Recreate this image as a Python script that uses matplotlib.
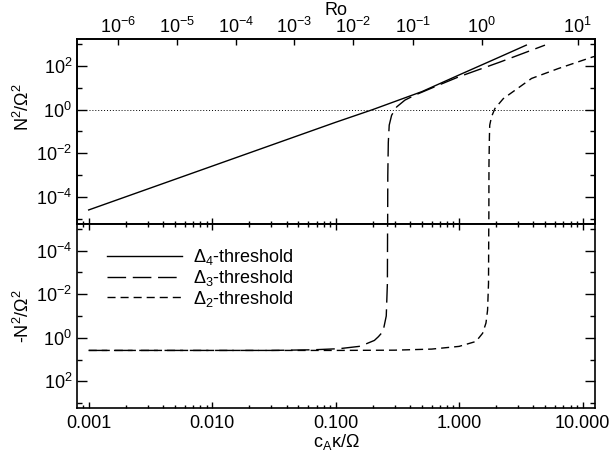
import matplotlib
matplotlib.use("Agg")
import matplotlib.pyplot as plt
from matplotlib import ticker

plt.rcParams['font.family'] = ['Liberation Sans', 'DejaVu Sans']
plt.rcParams['mathtext.fontset'] = 'custom'
plt.rcParams['mathtext.rm'] = 'Liberation Sans'
plt.rcParams['mathtext.it'] = 'Liberation Sans:italic'
plt.rcParams['axes.unicode_minus'] = False
plt.rcParams['font.size'] = 13

# values (x = c_A kappa / Omega)
d4_x = [0.001, 0.01, 0.1, 0.2, 0.5, 1.0, 2.0, 3.5]
d4_y = [2.63e-5, 2.63e-3, 0.263, 1.0, 6.6, 38, 214, 871]

# Delta3: positive branch (top) and negative branch (bottom, -N^2/Omega^2)
d3_top_x = [0.2636, 0.2645, 0.267, 0.2716, 0.284, 0.312, 0.364, 0.44, 0.7, 1.0, 2.15, 4.96]
d3_top_y = [2.5e-6, 1e-3, 0.0316, 0.195, 0.55, 1.32, 2.7, 4.6, 13.8, 31.6, 148, 871]
d3_bot_x = [0.001, 0.03, 0.066, 0.107, 0.155, 0.178, 0.206, 0.222, 0.242, 0.257, 0.2625, 0.2636]
d3_bot_y = [3.8, 3.8, 3.55, 3.16, 2.48, 1.86, 1.32, 0.89, 0.51, 0.1, 0.0032, 2.5e-6]

# Delta2
d2_top_x = [1.74, 1.745, 1.76, 1.77, 1.83, 1.95, 2.28, 3.86, 6.34, 12.2, 14.0]
d2_top_y = [2.5e-6, 3.2e-3, 0.063, 0.195, 0.47, 1.12, 3.16, 26.3, 74, 257, 300]
d2_bot_x = [0.001, 0.1, 0.3, 0.6, 1.0, 1.37, 1.55, 1.65, 1.70, 1.73, 1.74]
d2_bot_y = [3.8, 3.8, 3.7, 3.3, 2.48, 1.47, 0.62, 0.21, 0.054, 3.2e-3, 2.5e-6]

labels = [r'$\Delta_4$-threshold', r'$\Delta_3$-threshold', r'$\Delta_2$-threshold']

# top axis: Ro ticks, positions in c_A kappa / Omega
ro_pos = [0.001738, 0.005164, 0.01549, 0.04624, 0.1374, 0.4246, 1.521, 9.12]
ro_labels = [r'$10^{-6}$', r'$10^{-5}$', r'$10^{-4}$', r'$10^{-3}$',
             r'$10^{-2}$', r'$10^{-1}$', r'$10^{0}$', r'$10^{1}$']

xlim = (0.000804, 12.6)
ylim = (10**-5.22, 10**3.22)

fig = plt.figure(figsize=(6.12, 4.62), dpi=100)
ax1 = fig.add_axes([0.1258, 0.5152, 0.8464, 0.4004])
ax2 = fig.add_axes([0.1258, 0.1169, 0.8464, 0.3983])

dash3 = (13.4, 4.8)
dash2 = (5.8, 3.6)

l4, = ax1.plot(d4_x, d4_y, color='black', lw=1.0)
ax1.plot(d3_top_x, d3_top_y, color='black', lw=1.0, dashes=dash3)
ax1.plot(d2_top_x, d2_top_y, color='black', lw=1.0, dashes=dash2)
ax1.hlines(1.0, 0.001, xlim[1], color='black', lw=0.7, linestyles=(0, (1, 2)))

l3, = ax2.plot(d3_bot_x, d3_bot_y, color='black', lw=1.0, dashes=dash3)
l2, = ax2.plot(d2_bot_x, d2_bot_y, color='black', lw=1.0, dashes=dash2)

for ax in (ax1, ax2):
    ax.set_xscale('log')
    ax.set_yscale('log')
    ax.set_xlim(*xlim)
    ax.yaxis.set_major_locator(ticker.FixedLocator([1e-4, 1e-2, 1, 1e2]))
    ax.yaxis.set_minor_locator(ticker.FixedLocator([1e-5, 1e-3, 1e-1, 1e1, 1e3]))
    ax.yaxis.set_major_formatter(ticker.LogFormatterSciNotation())
    ax.yaxis.set_minor_formatter(ticker.NullFormatter())
    ax.xaxis.set_major_locator(ticker.LogLocator(base=10))
    ax.xaxis.set_minor_locator(ticker.LogLocator(base=10, subs=range(2, 10)))
    ax.tick_params(axis='y', which='both', direction='in', left=True, right=True)
    ax.tick_params(axis='y', which='major', length=7, width=1)
    ax.tick_params(axis='y', which='minor', length=3.5, width=1)
    ax.tick_params(axis='x', which='major', direction='in', length=4.5, width=1)
    ax.tick_params(axis='x', which='minor', direction='in', length=2.5, width=1)
    for s in ax.spines.values():
        s.set_linewidth(1.2)

ax1.set_ylim(*ylim)
ax1.tick_params(axis='x', which='both', bottom=True, top=False, labelbottom=False)
ax1.set_ylabel(r'N$^2$/$\Omega^2$')
ax1.yaxis.set_label_coords(-0.085, 0.634)

ax2.set_ylim(ylim[1], ylim[0])
ax2.tick_params(axis='x', which='both', bottom=True, top=True)
ax2.tick_params(axis='x', which='major', pad=5)
ax2.xaxis.set_major_formatter(ticker.FormatStrFormatter('%.3f'))
ax2.set_ylabel(r'-N$^2$/$\Omega^2$')
ax2.yaxis.set_label_coords(-0.085, 0.5)
ax2.set_xlabel('c$_\\mathrm{A}$κ/Ω', labelpad=0)

top = ax1.twiny()
top.set_xscale('log')
top.set_xlim(*xlim)
top.xaxis.set_major_locator(ticker.FixedLocator(ro_pos))
top.xaxis.set_major_formatter(ticker.FixedFormatter(ro_labels))
top.xaxis.set_minor_locator(ticker.NullLocator())
top.tick_params(axis='x', which='major', direction='in', length=4, width=1, pad=1.5)
top.set_xlabel('Ro', labelpad=0)
top.xaxis.set_label_coords(0.5, 1.13)
for s in top.spines.values():
    s.set_linewidth(1.2)

ax2.legend([l4, l3, l2], labels, loc='upper left', bbox_to_anchor=(0.058, 0.875),
           frameon=False, borderpad=0, borderaxespad=0, handlelength=4.15,
           handletextpad=0.6, labelspacing=0.05, fontsize=13)

fig.savefig('out.png', dpi=100)
